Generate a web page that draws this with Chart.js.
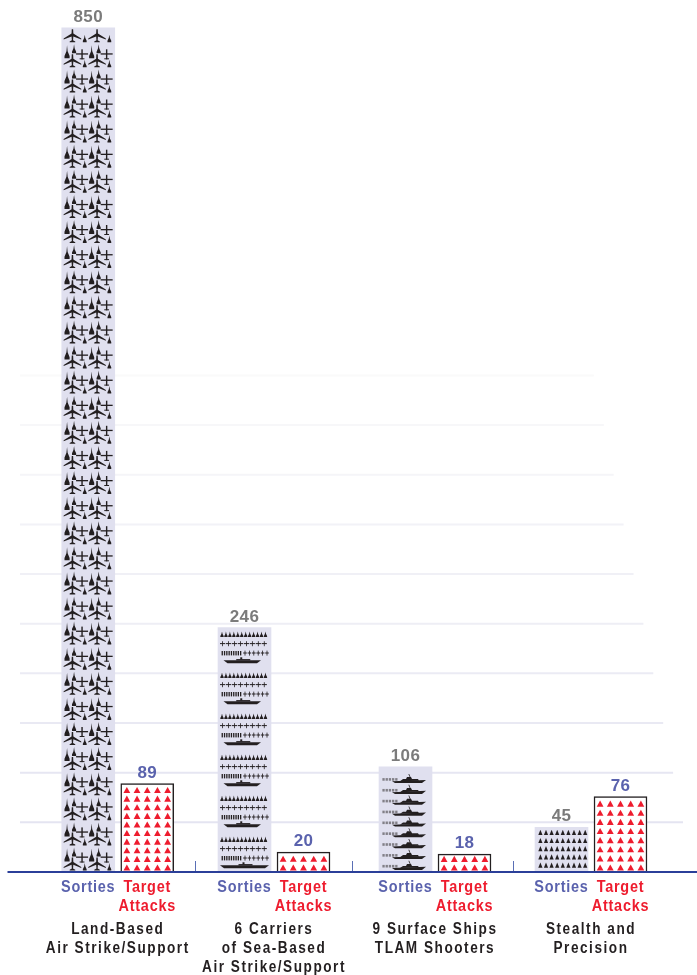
<!DOCTYPE html>
<html>
<head>
<meta charset="utf-8">
<title>Sorties and Target Attacks</title>
<script src="https://cdn.jsdelivr.net/npm/chart.js@4"></script>
<style>
  html, body { margin: 0; padding: 0; background: #fff; }
  canvas { display: block; }
</style>
</head>
<body>
<canvas id="canva" width="697" height="975"></canvas>
<script>
// data
const categories = [
  ['Land-Based', 'Air Strike/Support'],
  ['6 Carriers', 'of Sea-Based', 'Air Strike/Support'],
  ['9 Surface Ships', 'TLAM Shooters'],
  ['Stealth and', 'Precision'],
];
const sorties = [850, 246, 106, 45];
const targetAttacks = [89, 20, 18, 76];
const gridValues = [50, 100, 150, 200, 250, 300, 350, 400, 450, 500];

// layout
const groupCenters = [117.75, 274, 435, 591];
const separators = [195.4, 352, 513];
const BLUE = '#5a62ad';
const RED = '#ee1c2e';
const GREY = '#7b7b7b';
const INK = '#231f20';

function poly(ctx, pts) {
  ctx.beginPath();
  ctx.moveTo(pts[0], pts[1]);
  for (let i = 2; i < pts.length; i += 2) ctx.lineTo(pts[i], pts[i + 1]);
  ctx.closePath();
  ctx.fill();
}

// plane seen from above, nose on top
function bomber(ctx, x, y) {
  poly(ctx, [x - 0.7, y - 13, x + 0.7, y - 13, x + 0.9, y - 8.6, x + 8.8, y - 3.6, x + 8.8, y - 2.6, x + 0.9, y - 5.8, x + 0.6, y - 2, x + 2.8, y - 0.8, x + 2.8, y, x - 2.8, y, x - 2.8, y - 0.8, x - 0.6, y - 2, x - 0.9, y - 5.8, x - 8.8, y - 2.6, x - 8.8, y - 3.6, x - 0.9, y - 8.6]);
}
function fighter(ctx, x, y, h) {
  const w = 1 + h * 0.12;
  poly(ctx, [x, y - h, x + 0.6, y - h * 0.55, x + w, y - h * 0.18, x + w, y, x - w, y, x - w, y - h * 0.18, x - 0.6, y - h * 0.55]);
}
function crossPlane(ctx, x, y) {
  ctx.fillRect(x - 0.7, y - 10, 1.4, 10);
  ctx.fillRect(x - 6, y - 6, 12, 1.3);
  ctx.fillRect(x - 2.4, y - 1, 4.8, 1);
}
function tinyCross(ctx, x, y, w) {
  ctx.fillRect(x - 0.4, y - 2.6, 0.8, 5);
  ctx.fillRect(x - w / 2, y - 0.7, w, 1);
}
function carrier(ctx, x0, x1, y) {
  poly(ctx, [x0, y - 1.3, x1, y - 1.3, x1 - 4, y + 1.8, x0 + 4, y + 1.8]);
  ctx.fillRect((x0 + x1) / 2 - 6, y - 2.4, 14, 1.4);
  ctx.fillRect((x0 + x1) / 2 - 2, y - 4.2, 2, 2.2);
}
function warship(ctx, x, y) {
  poly(ctx, [x, y, x + 34, y - 1.3, x + 30, y + 1.8, x + 3, y + 1.8]);
  poly(ctx, [x + 8, y, x + 11, y - 2.2, x + 14, y - 2.2, x + 15, y - 4.2, x + 19, y - 4.2, x + 20, y - 2.2, x + 26, y - 2.2, x + 27, y - 0.6]);
  poly(ctx, [x + 16.4, y - 7.4, x + 17.2, y - 7.4, x + 18.6, y - 4, x + 17.8, y - 4]);
}

function drawLandTile(ctx, left, bottom, lowerOnly) {
  for (let c = 0; c < 2; c++) {
    const x = left + c * 24.6;
    bomber(ctx, x + 10.7, bottom - 1);
    fighter(ctx, x + 23, bottom - 1, 7.5);
    if (lowerOnly) continue;
    fighter(ctx, x + 5.3, bottom - 10, 13);
    fighter(ctx, x + 12.3, bottom - 15, 9);
    crossPlane(ctx, x + 20.3, bottom - 9);
  }
}
function drawCarrierTile(ctx, left, bottom, first) {
  for (let i = 0; i < 12; i++) fighter(ctx, left + 4 + i * 3.95, bottom - 29.5, 5.5);
  for (let i = 0; i < 8; i++) tinyCross(ctx, left + 4.6 + i * 5.95, bottom - 22.7, 5.2);
  for (let i = 0; i < 9; i++) ctx.fillRect(left + 3.6 + i * 2.3, bottom - 15.5, 1.3, 4.4);
  for (let i = 0; i < 6; i++) tinyCross(ctx, left + 27 + i * 4.4, bottom - 13.3, 3.6);
  if (first) carrier(ctx, left + 2, left + 51, bottom - 5);
  else carrier(ctx, left + 5.5, left + 43, bottom - 5);
}
function drawShipTile(ctx, left, bottom) {
  ctx.save();
  ctx.globalAlpha = 0.5;
  for (let i = 0; i < 5; i++) ctx.fillRect(left + 3.4 + i * 3.2, bottom - 6.6, 2.3, 2.6);
  ctx.restore();
  warship(ctx, left + 13, bottom - 3.4);
}
function drawStealthRow(ctx, left, y) {
  for (let i = 0; i < 9; i++) {
    poly(ctx, [left + 5.4 + i * 5.6, y - 3, left + 7.5 + i * 5.6, y + 2.2, left + 3.3 + i * 5.6, y + 2.2]);
  }
}

const gridPlugin = {
  id: 'fadingGrid',
  beforeDatasetsDraw(chart) {
    const ctx = chart.ctx;
    const y = chart.scales.y;
    const x = chart.scales.x;
    ctx.save();
    gridValues.forEach((v, i) => {
      const py = y.getPixelForValue(v);
      // lines fade out and get shorter going up
      const shade = 228 + i * 2.4;
      ctx.strokeStyle = 'rgb(' + shade + ',' + shade + ',' + (241 + i) + ')';
      ctx.lineWidth = 2;
      ctx.beginPath();
      ctx.moveTo(x.getPixelForValue(20), py);
      ctx.lineTo(x.getPixelForValue(683 - i * 9.9), py);
      ctx.stroke();
    });
    ctx.restore();
  },
};

const pictoPlugin = {
  id: 'pictograms',
  afterDatasetsDraw(chart) {
    const ctx = chart.ctx;
    const sortieBars = chart.getDatasetMeta(0).data;
    const targetBars = chart.getDatasetMeta(1).data;

    sortieBars.forEach((bar, n) => {
      const left = bar.x - bar.width / 2;
      const bottom = bar.base - 0.5;
      ctx.save();
      ctx.beginPath();
      ctx.rect(left, bar.y, bar.width, bar.base - bar.y);
      ctx.clip();
      ctx.fillStyle = INK;
      if (n === 0) {
        // the top tile is cut off, only its bomber row fits
        for (let b = bottom; b > bar.y; b -= 25.1) drawLandTile(ctx, left, b, b - 25 < bar.y);
      } else if (n === 1) {
        for (let i = 0; i < 6; i++) drawCarrierTile(ctx, left, bottom - i * 41, i === 0);
      } else if (n === 2) {
        for (let i = 0; i < 9; i++) drawShipTile(ctx, left, bottom - i * 10.85);
      } else {
        for (let i = 0; i < 5; i++) drawStealthRow(ctx, left, bottom - 6 - i * 8.2);
      }
      ctx.restore();
    });

    targetBars.forEach((bar) => {
      const h = bar.base - bar.y;
      const rows = Math.round(h / 9);
      const pitch = Math.max(8.6, (h - 2.5) / rows);
      ctx.fillStyle = RED;
      for (let r = 0; r < rows; r++) {
        for (let c = -2; c <= 2; c++) {
          const cx = bar.x + c * 10.2;
          const by = bar.base - 1.5 - r * pitch;
          poly(ctx, [cx, by - 6.1, cx + 3.4, by, cx - 3.4, by]);
        }
      }
    });
  },
};

// the original face is a condensed one, so squeeze the text a little
function label(ctx, text, x, y, color, font, spacing, squeeze) {
  ctx.save();
  ctx.translate(x, y);
  ctx.scale(squeeze, 1);
  ctx.font = font;
  ctx.letterSpacing = spacing + 'px';
  ctx.fillStyle = color;
  ctx.fillText(text, 0, 0);
  ctx.restore();
}

const textPlugin = {
  id: 'chartText',
  afterDraw(chart) {
    const ctx = chart.ctx;
    const x = chart.scales.x;
    const area = chart.chartArea;
    const sortieBars = chart.getDatasetMeta(0).data;
    const targetBars = chart.getDatasetMeta(1).data;
    ctx.save();

    // baseline and group separators
    ctx.strokeStyle = '#5a6fb5';
    ctx.lineWidth = 1;
    separators.forEach((s) => {
      const px = Math.round(x.getPixelForValue(s)) + 0.5;
      ctx.beginPath();
      ctx.moveTo(px, area.bottom - 11);
      ctx.lineTo(px, area.bottom);
      ctx.stroke();
    });
    ctx.strokeStyle = '#2b3f99';
    ctx.lineWidth = 2;
    ctx.beginPath();
    ctx.moveTo(x.getPixelForValue(7.5), area.bottom);
    ctx.lineTo(x.getPixelForValue(697), area.bottom);
    ctx.stroke();

    ctx.textAlign = 'center';
    ctx.textBaseline = 'alphabetic';
    const numFont = 'bold 17px "Liberation Sans", Arial, sans-serif';
    const headFont = 'bold 17px "Liberation Sans", Arial, sans-serif';
    const capFont = 'bold 16px "Liberation Sans", Arial, sans-serif';

    categories.forEach((lines, i) => {
      const s = sortieBars[i];
      const t = targetBars[i];
      label(ctx, String(sorties[i]), s.x, s.y - 6, GREY, numFont, 0.4, 1);
      label(ctx, String(targetAttacks[i]), t.x, t.y - 6, BLUE, numFont, 0.4, 1);
      label(ctx, 'Sorties', s.x, area.bottom + 20, BLUE, headFont, 0.9, 0.85);
      label(ctx, 'Target', t.x, area.bottom + 20, RED, headFont, 0.9, 0.85);
      label(ctx, 'Attacks', t.x, area.bottom + 39, RED, headFont, 0.9, 0.85);
      lines.forEach((line, k) => {
        label(ctx, line, x.getPixelForValue(groupCenters[i]), area.bottom + 62 + k * 19, INK, capFont, 1.8, 0.85);
      });
    });
    ctx.restore();
  },
};

new Chart(document.getElementById('canva'), {
  type: 'bar',
  data: {
    datasets: [
      {
        label: 'Sorties',
        data: sorties.map((v, i) => ({ x: groupCenters[i], y: v })),
        backgroundColor: '#e0e0ef',
        borderWidth: 0,
        barThickness: 59,
        maxBarThickness: 53,
      },
      {
        label: 'Target Attacks',
        data: targetAttacks.map((v, i) => ({ x: groupCenters[i], y: v })),
        backgroundColor: '#ffffff',
        borderColor: INK,
        borderWidth: 1.5,
        barThickness: 59,
        maxBarThickness: 53,
      },
    ],
  },
  options: {
    responsive: false,
    animation: false,
    devicePixelRatio: 1,
    layout: { padding: { bottom: 103 } },
    scales: {
      x: { type: 'linear', offset: false, min: 0, max: 697, display: false },
      y: { min: 0, max: 878, display: false },
    },
    plugins: {
      legend: { display: false },
      title: { display: false },
      tooltip: { enabled: false },
    },
  },
  plugins: [gridPlugin, pictoPlugin, textPlugin],
});
</script>
</body>
</html>
